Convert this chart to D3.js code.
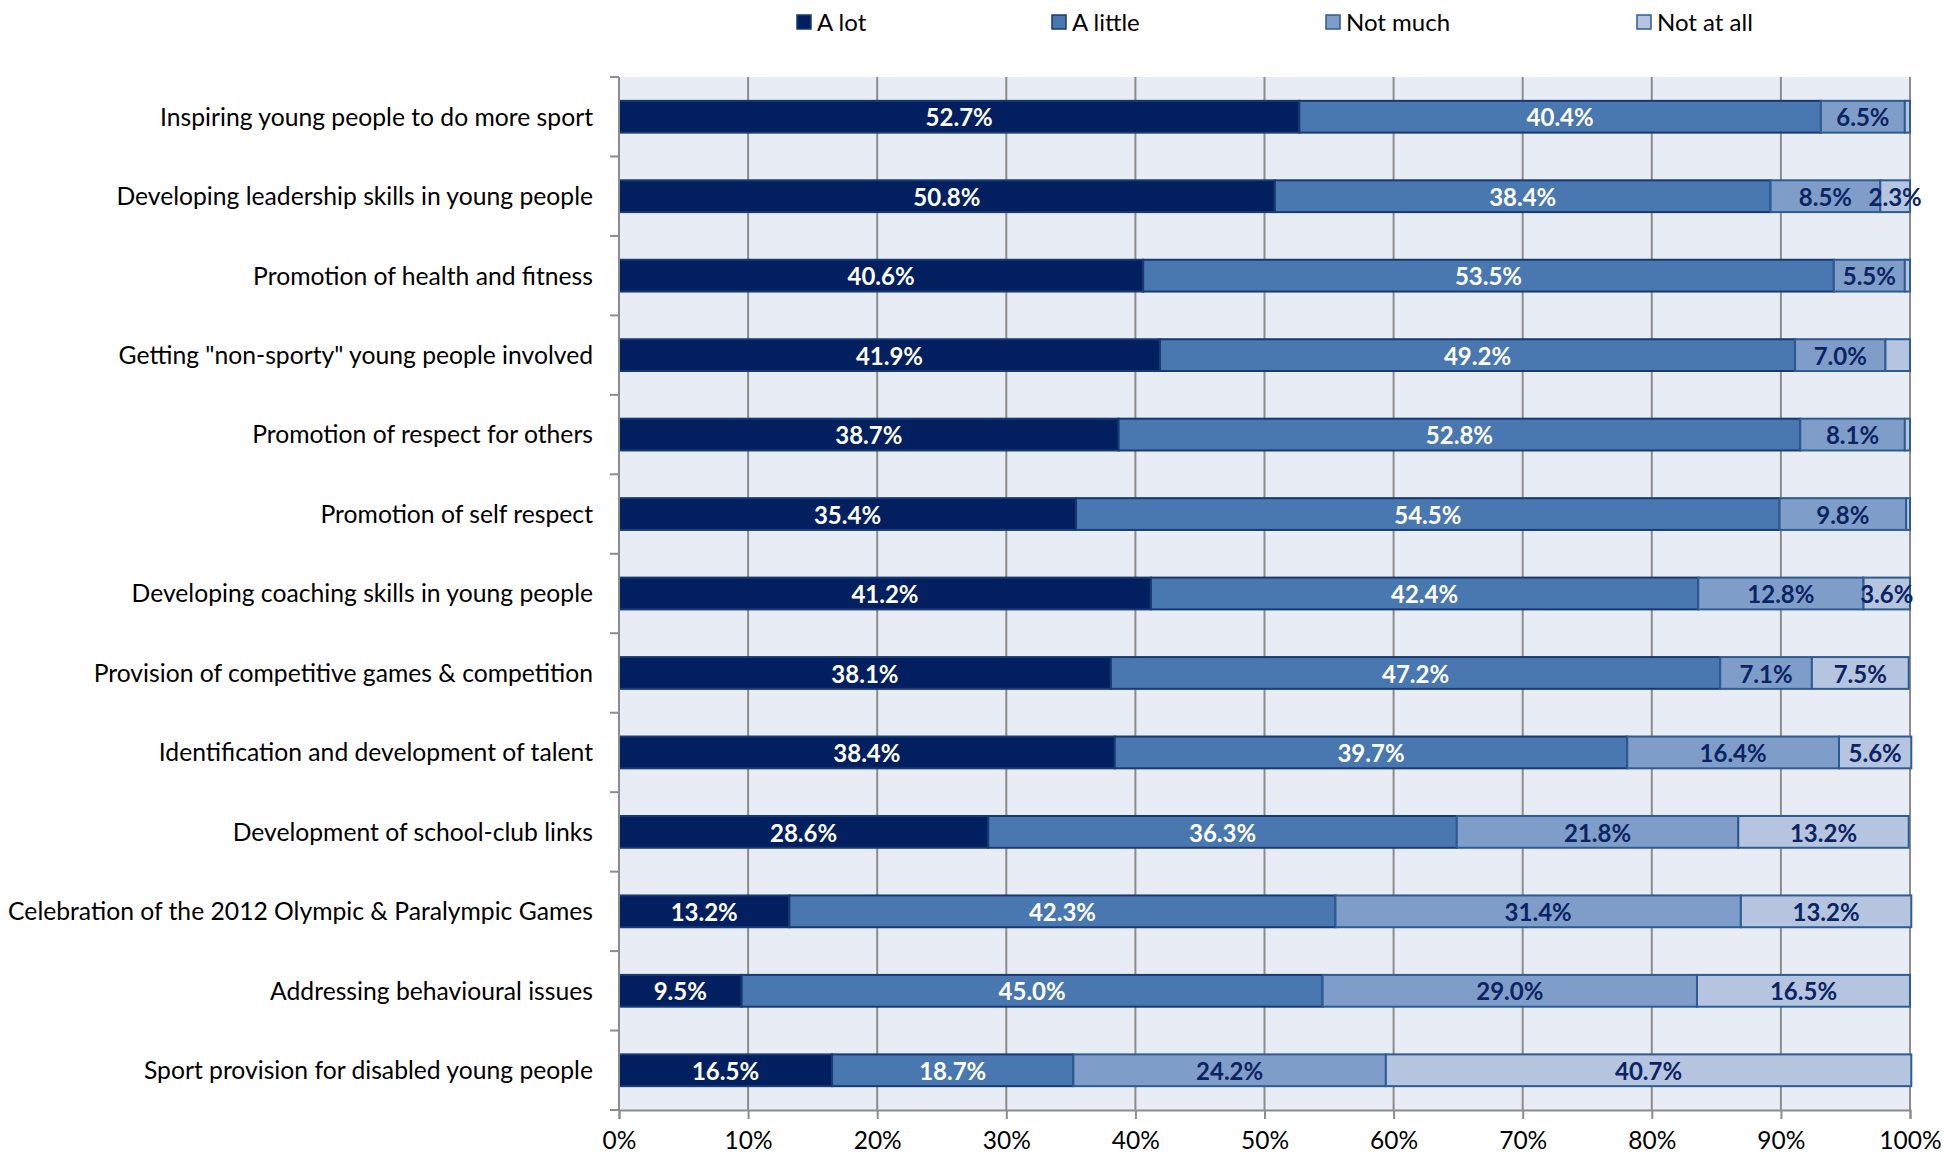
<!DOCTYPE html>
<html>
<head>
<meta charset="utf-8">
<script src="https://cdn.jsdelivr.net/npm/d3@7"></script>
<style>
  body { margin: 0; background: #fff; }
  text { font-family: Lato, "Noto Sans", sans-serif; }
</style>
</head>
<body>
<svg width="1943" height="1156"></svg>
<script>
var categories = [
  "Inspiring young people to do more sport",
  "Developing leadership skills in young people",
  "Promotion of health and fitness",
  "Getting \"non-sporty\" young people involved",
  "Promotion of respect for others",
  "Promotion of self respect",
  "Developing coaching skills in young people",
  "Provision of competitive games & competition",
  "Identification and development of talent",
  "Development of school-club links",
  "Celebration of the 2012 Olympic & Paralympic Games",
  "Addressing behavioural issues",
  "Sport provision for disabled young people"
];
var seriesNames = ["A lot", "A little", "Not much", "Not at all"];
var aLot    = [52.7, 50.8, 40.6, 41.9, 38.7, 35.4, 41.2, 38.1, 38.4, 28.6, 13.2, 9.5, 16.5];
var aLittle = [40.4, 38.4, 53.5, 49.2, 52.8, 54.5, 42.4, 47.2, 39.7, 36.3, 42.3, 45.0, 18.7];
var notMuch = [6.5, 8.5, 5.5, 7.0, 8.1, 9.8, 12.8, 7.1, 16.4, 21.8, 31.4, 29.0, 24.2];
var notAtAll = [0.4, 2.3, 0.4, 1.9, 0.4, 0.3, 3.6, 7.5, 5.6, 13.2, 13.2, 16.5, 40.7];
var xTicks = [0, 10, 20, 30, 40, 50, 60, 70, 80, 90, 100];

var fills = ["#02205f", "#4977b0", "#7f9dc9", "#b5c5e0"];
var strokes = ["#173a72", "#173a72", "#2f5b93", "#2f5b93"];
var labelColors = ["#ffffff", "#ffffff", "#0c2462", "#0c2462"];

var svg = d3.select("svg");
var mLeft = 619, mRight = 1910, mTop = 77, mBottom = 1110;

var rows = categories.map(function (c, i) {
  return { cat: c, "A lot": aLot[i], "A little": aLittle[i], "Not much": notMuch[i], "Not at all": notAtAll[i] };
});
var stacked = d3.stack().keys(seriesNames)(rows);

var x = d3.scaleLinear().domain([0, 100]).range([mLeft, mRight]);
var y = d3.scaleBand().domain(categories).range([mTop, mBottom]).paddingInner(0.6).paddingOuter(0.3);
var yEdge = d3.scaleLinear().domain([0, categories.length]).range([mTop, mBottom]);

// plot background
svg.append("rect")
  .attr("x", mLeft).attr("y", mTop)
  .attr("width", mRight - mLeft).attr("height", mBottom - mTop)
  .attr("fill", "#e7ecf5");

// gridlines
svg.append("g")
  .selectAll("line")
  .data(xTicks.slice(1))
  .enter().append("line")
  .attr("x1", function (d) { return x(d); })
  .attr("x2", function (d) { return x(d); })
  .attr("y1", mTop).attr("y2", mBottom)
  .attr("stroke", "#8c8c8c").attr("stroke-width", 2);

// bars
var layer = svg.append("g")
  .selectAll("g")
  .data(stacked)
  .enter().append("g")
  .attr("fill", function (d, i) { return fills[i]; })
  .attr("stroke", function (d, i) { return strokes[i]; });

layer.selectAll("rect")
  .data(function (d) { return d; })
  .enter().append("rect")
  .attr("x", function (d) { return x(d[0]); })
  .attr("y", function (d) { return y(d.data.cat); })
  .attr("width", function (d) { return x(d[1]) - x(d[0]); })
  .attr("height", y.bandwidth())
  .attr("stroke-width", 2);

// value labels
stacked.forEach(function (s, i) {
  svg.append("g")
    .selectAll("text")
    .data(s.filter(function (d) { return d[1] - d[0] >= 2; }))
    .enter().append("text")
    .attr("x", function (d) { return x((d[0] + d[1]) / 2); })
    .attr("y", function (d) { return y(d.data.cat) + y.bandwidth() / 2 + 1; })
    .attr("dy", "0.36em")
    .attr("text-anchor", "middle")
    .attr("fill", labelColors[i])
    .attr("font-size", 24)
    .attr("font-weight", "bold")
    .text(function (d) { return (d.data[s.key]).toFixed(1) + "%"; });
});

// y axis
var yAxis = svg.append("g");
yAxis.append("line")
  .attr("x1", mLeft).attr("x2", mLeft).attr("y1", mTop).attr("y2", mBottom)
  .attr("stroke", "#8c8c8c").attr("stroke-width", 2);
yAxis.selectAll(".tick")
  .data(d3.range(categories.length + 1))
  .enter().append("line")
  .attr("x1", mLeft - 9).attr("x2", mLeft)
  .attr("y1", function (d) { return yEdge(d); })
  .attr("y2", function (d) { return yEdge(d); })
  .attr("stroke", "#8c8c8c").attr("stroke-width", 2);
yAxis.selectAll("text")
  .data(categories)
  .enter().append("text")
  .attr("x", 593)
  .attr("y", function (d) { return y(d) + y.bandwidth() / 2; })
  .attr("dy", "0.36em")
  .attr("text-anchor", "end")
  .attr("font-size", 24.7)
  .attr("fill", "#000")
  .text(function (d) { return d; });

// x axis
var xAxis = svg.append("g")
  .attr("transform", "translate(0," + mBottom + ")")
  .call(d3.axisBottom(x).tickValues(xTicks).tickSize(9).tickFormat(function (d) { return d + "%"; }));
xAxis.select(".domain").attr("stroke", "#8c8c8c").attr("stroke-width", 2);
xAxis.selectAll(".tick line").attr("stroke", "#8c8c8c").attr("stroke-width", 2);
xAxis.selectAll(".tick text")
  .attr("font-size", 24.5)
  .attr("font-family", "Lato, sans-serif")
  .attr("fill", "#000")
  .attr("y", 22)
  .attr("dy", "0.71em");

// legend
var legendX = [797, 1052, 1326, 1637];
var legend = svg.append("g")
  .selectAll("g")
  .data(seriesNames)
  .enter().append("g")
  .attr("transform", function (d, i) { return "translate(" + legendX[i] + ",22)"; });
legend.append("rect")
  .attr("x", 0).attr("y", -7).attr("width", 14).attr("height", 14)
  .attr("fill", function (d, i) { return fills[i]; })
  .attr("stroke", function (d, i) { return strokes[i]; })
  .attr("stroke-width", 1.5);
legend.append("text")
  .attr("x", 20).attr("y", 0).attr("dy", "0.36em")
  .attr("font-size", 24)
  .attr("fill", "#000")
  .text(function (d) { return d; });
</script>
</body>
</html>
